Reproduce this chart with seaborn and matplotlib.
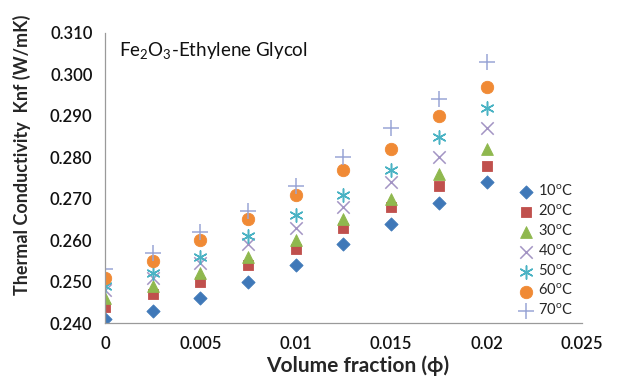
import matplotlib
matplotlib.use("Agg")
import matplotlib.pyplot as plt
import seaborn as sns

# volume fraction values (x)
phi = [0, 0.0025, 0.005, 0.0075, 0.01, 0.0125, 0.015, 0.0175, 0.02]

# thermal conductivity per temperature (W/mK)
k_10 = [0.241, 0.243, 0.246, 0.250, 0.254, 0.259, 0.264, 0.269, 0.274]
k_20 = [0.244, 0.247, 0.250, 0.254, 0.258, 0.263, 0.268, 0.273, 0.278]
k_30 = [0.246, 0.249, 0.252, 0.256, 0.260, 0.265, 0.270, 0.276, 0.282]
k_40 = [0.248, 0.251, 0.2545, 0.259, 0.263, 0.268, 0.274, 0.280, 0.287]
k_50 = [0.249, 0.252, 0.256, 0.261, 0.266, 0.271, 0.277, 0.285, 0.292]
k_60 = [0.251, 0.255, 0.260, 0.265, 0.271, 0.277, 0.282, 0.290, 0.297]
k_70 = [0.253, 0.257, 0.262, 0.267, 0.273, 0.280, 0.287, 0.294, 0.303]

temps = ["10", "20", "30", "40", "50", "60", "70"]
series = [k_10, k_20, k_30, k_40, k_50, k_60, k_70]

x_ticks = [0, 0.005, 0.01, 0.015, 0.02, 0.025]
x_tick_labels = ["0", "0.005", "0.01", "0.015", "0.02", "0.025"]
y_ticks = [0.240, 0.250, 0.260, 0.270, 0.280, 0.290, 0.300, 0.310]

colors = ["#3f78b8", "#c0504d", "#8fb84e", "#a394c4", "#4bb3c4", "#f08a35", "#9aa6d6"]
markers = ["D", "s", "^", "x", (6, 2, 0), "o", "+"]
sizes = [45, 62, 72, 80, 90, 80, 120]

sns.set_style("white")
plt.rcParams["font.family"] = ["Lato", "DejaVu Sans"]
plt.rcParams["mathtext.fontset"] = "custom"
plt.rcParams["mathtext.rm"] = "Lato"
plt.rcParams["mathtext.it"] = "Lato"

fig = plt.figure(figsize=(6.36, 3.87), dpi=100)
ax = fig.add_axes([0.165, 0.165, 0.75, 0.75])

for t, vals, c, m, s in zip(temps, series, colors, markers, sizes):
    filled = m in ["D", "s", "^", "o"]
    kw = dict(edgecolor=c, linewidth=0.6) if filled else dict(linewidth=1.1)
    sns.scatterplot(x=phi, y=vals, marker=m, color=c, s=s, ax=ax,
                    label=f"{t}$^\\mathrm{{o}}$C", **kw)

ax.set_xlim(0, 0.025)
ax.set_ylim(0.240, 0.310)
ax.set_xticks(x_ticks)
ax.set_xticklabels(x_tick_labels)
ax.set_yticks(y_ticks)
ax.set_yticklabels([f"{v:.3f}" for v in y_ticks])

for side in ["top", "right"]:
    ax.spines[side].set_visible(False)
for side in ["left", "bottom"]:
    ax.spines[side].set_color("#9a9a9a")
    ax.spines[side].set_linewidth(0.9)
ax.tick_params(axis="both", direction="out", length=5, width=0.9, color="#9a9a9a",
               labelsize=12, labelcolor="#111111", pad=4)
for lbl in ax.get_xticklabels() + ax.get_yticklabels():
    lbl.set_fontweight("semibold")

ax.set_xlabel("Volume fraction (ϕ)", fontsize=15, fontweight="bold")
ax.set_ylabel("Thermal Conductivity  Knf (W/mK)", fontsize=13, fontweight="bold")
ax.xaxis.set_label_coords(0.53, -0.11)
ax.yaxis.set_label_coords(-0.155, 0.58)

ax.text(0.03, 0.94, "Fe$_\\mathrm{2}$O$_\\mathrm{3}$-Ethylene Glycol", transform=ax.transAxes,
        fontsize=13.5, color="#111111", va="center", ha="left")

ax.legend(loc="upper left", bbox_to_anchor=(0.855, 0.50), frameon=False, fontsize=10.5,
          handletextpad=0.3, labelspacing=0.32, borderaxespad=0, handlelength=1.0)

fig.savefig("out.png", dpi=100)
